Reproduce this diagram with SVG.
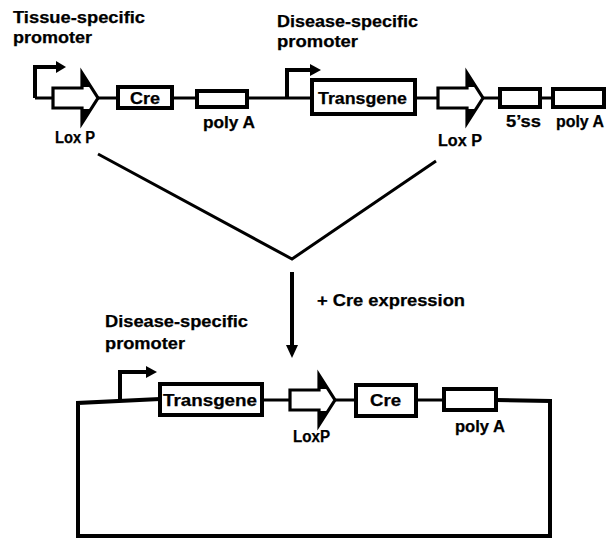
<svg xmlns="http://www.w3.org/2000/svg" xmlns:xlink="http://www.w3.org/1999/xlink" width="613" height="540" viewBox="0 0 613 540">
<style>
  text { font-family: "Liberation Sans", Arial, sans-serif; font-weight: bold; font-size: 16px; fill: #000; stroke: #000; stroke-width: 0.25; }
  .line { stroke: #000; stroke-width: 3; fill: none; }
  .thick { stroke: #000; stroke-width: 4; fill: none; }
  .box { stroke: #000; stroke-width: 4; fill: #fff; }
  .head { fill: #000; stroke: none; }
</style>
<defs>
  <g id="loxp">
    <polygon points="0,-10 29,-10 29,-25 45,0 29,25 29,10 0,10" fill="#fff" stroke="#000" stroke-width="3.2" stroke-linejoin="miter"/>
    <polygon points="29,-25 37,-11 29,-11" fill="#000"/>
    <polygon points="29,25 37,11 29,11" fill="#000"/>
  </g>
</defs>
<rect width="613" height="540" fill="#fff"/>

<g id="connectors">
  <!-- top backbone -->
  <line class="line" x1="35" y1="98" x2="553" y2="98"/>
  <!-- V lines -->
  <polyline class="line" points="98,154 292,259 436,161"/>
  <!-- down arrow -->
  <line class="thick" x1="292" y1="272" x2="292" y2="346"/>
  <polygon class="head" points="286,345 298,345 292,358"/>
  <!-- bottom loop -->
  <polyline class="thick" points="160,399 78,403 78,536 550,536 550,401 496,400"/>
  <line class="line" x1="262" y1="400" x2="356" y2="400"/>
  <line class="line" x1="416" y1="400" x2="444" y2="400"/>
</g>

<g id="tissue-promoter">
  <polyline class="thick" points="35,98 35,67 57,67"/>
  <polygon class="head" points="56,61 66,67 56,73"/>
  <text x="13" y="23" textLength="132" lengthAdjust="spacingAndGlyphs">Tissue-specific</text>
  <text x="13" y="43" textLength="79" lengthAdjust="spacingAndGlyphs">promoter</text>
</g>

<g id="loxp1">
  <use xlink:href="#loxp" href="#loxp" transform="translate(53,98)"/>
  <text x="55" y="143" textLength="40" lengthAdjust="spacingAndGlyphs">Lox P</text>
</g>

<g id="cre1">
  <rect class="box" x="118" y="87" width="54" height="21"/>
  <text x="130" y="104" textLength="30" lengthAdjust="spacingAndGlyphs">Cre</text>
</g>

<g id="polya1">
  <rect class="box" x="197" y="91" width="50" height="16"/>
  <text x="203" y="128" textLength="52" lengthAdjust="spacingAndGlyphs">poly A</text>
</g>

<g id="disease-promoter1">
  <polyline class="thick" points="287,98 287,70 311,70"/>
  <polygon class="head" points="310,64 321,70 310,76"/>
  <text x="277" y="27" textLength="141" lengthAdjust="spacingAndGlyphs">Disease-specific</text>
  <text x="277" y="47" textLength="81" lengthAdjust="spacingAndGlyphs">promoter</text>
</g>

<g id="transgene1">
  <rect class="box" x="312" y="80" width="103" height="34"/>
  <text x="318" y="104" textLength="89" lengthAdjust="spacingAndGlyphs">Transgene</text>
</g>

<g id="loxp2">
  <use xlink:href="#loxp" href="#loxp" transform="translate(438,98)"/>
  <text x="438" y="146" textLength="44" lengthAdjust="spacingAndGlyphs">Lox P</text>
</g>

<g id="ss5">
  <rect class="box" x="500" y="89" width="40" height="18"/>
  <text x="506" y="127" textLength="35" lengthAdjust="spacingAndGlyphs">5’ss</text>
</g>

<g id="polya2">
  <rect class="box" x="553" y="89" width="51" height="18"/>
  <text x="556" y="127" textLength="48" lengthAdjust="spacingAndGlyphs">poly A</text>
</g>

<g id="cre-expression">
  <text x="317" y="306" textLength="148" lengthAdjust="spacingAndGlyphs">+ Cre expression</text>
</g>

<g id="disease-promoter2">
  <polyline class="thick" points="120,401 120,372 147,372"/>
  <polygon class="head" points="146,366 157,372 146,378"/>
  <text x="105" y="327" textLength="143" lengthAdjust="spacingAndGlyphs">Disease-specific</text>
  <text x="105" y="349" textLength="80" lengthAdjust="spacingAndGlyphs">promoter</text>
</g>

<g id="transgene2">
  <rect class="box" x="160" y="384" width="102" height="31"/>
  <text x="163" y="406" textLength="94" lengthAdjust="spacingAndGlyphs">Transgene</text>
</g>

<g id="loxp3">
  <use xlink:href="#loxp" href="#loxp" transform="translate(290,400)"/>
  <text x="293" y="442" textLength="37" lengthAdjust="spacingAndGlyphs">LoxP</text>
</g>

<g id="cre2">
  <rect class="box" x="356" y="385" width="60" height="31"/>
  <text x="370" y="406" textLength="31" lengthAdjust="spacingAndGlyphs">Cre</text>
</g>

<g id="polya3">
  <rect class="box" x="444" y="389" width="52" height="21"/>
  <text x="455" y="432" textLength="50" lengthAdjust="spacingAndGlyphs">poly A</text>
</g>
</svg>
